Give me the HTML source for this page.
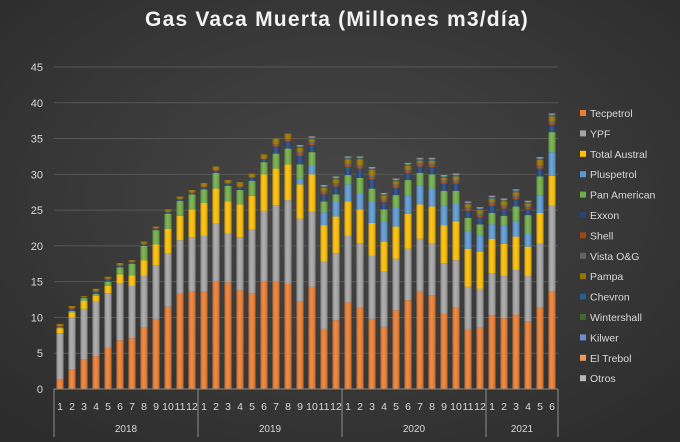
<!DOCTYPE html>
<html><head><meta charset="utf-8">
<style>
html,body{margin:0;padding:0;}
body{width:680px;height:442px;overflow:hidden;background:#3b3b3b;font-family:"Liberation Sans",sans-serif;}
svg{display:block;}
</style></head>
<body>
<svg id="chart" width="680" height="442" viewBox="0 0 680 442" xmlns="http://www.w3.org/2000/svg">
<defs>
<radialGradient id="bg" cx="50%" cy="45%" r="70%">
<stop offset="0" stop-color="#474747"/><stop offset="1" stop-color="#2c2c2c"/>
</radialGradient>
<linearGradient id="shine" x1="0" x2="1" y1="0" y2="0">
<stop offset="0" stop-color="#000" stop-opacity="0.12"/>
<stop offset="0.45" stop-color="#fff" stop-opacity="0.12"/>
<stop offset="1" stop-color="#000" stop-opacity="0.15"/>
</linearGradient>
</defs>
<rect x="0" y="0" width="680" height="442" fill="url(#bg)"/>
<text x="337" y="26" text-anchor="middle" fill="#f2f2f2" font-size="21" font-weight="bold" letter-spacing="1.2">Gas Vaca Muerta (Millones m3/día)</text>
<g id="grid"></g><g id="bars"></g><g id="axis"></g><g id="legend"></g>
</svg>
<script>
const series = ["Tecpetrol","YPF","Total Austral","Pluspetrol","Pan American","Exxon","Shell","Vista O&G","Pampa","Chevron","Wintershall","Kilwer","El Trebol","Otros"];
const colors = ["#ED7D31","#A5A5A5","#FFC000","#5B9BD5","#70AD47","#264478","#9E480E","#636363","#997300","#255E91","#43682B","#698ED0","#F1975A","#B7B7B7"];
const years = ["2018","2019","2020","2021"];
const monthsPerYear = [12,12,12,6];
const yTicks = [0,5,10,15,20,25,30,35,40,45];
const tecpetrol = [1.3,2.7,4.1,4.6,5.8,6.8,7.1,8.6,9.8,11.5,13.3,13.7,13.6,15.1,14.9,13.8,13.4,15.1,15.1,14.7,12.3,14.3,8.4,9.6,12.1,11.4,9.8,8.7,11,12.4,13.7,13.1,10.5,11.4,8.4,8.6,10.3,9.9,10.4,9.4,11.4,13.7];
const ypf = [6.5,7.3,7.1,7.6,7.6,8.0,7.3,7.2,7.5,7.5,7.5,7.5,7.8,8.0,6.8,7.4,8.9,9.8,10.6,11.7,11.5,10.5,9.4,9.4,9.3,9.0,8.8,7.7,7.2,7.2,7.3,7.2,7.1,6.6,5.9,5.4,5.9,5.9,6.3,6.4,8.9,11.9];
const totalAustral = [0.7,0.7,1.1,0.8,1.0,1.2,1.5,2.2,2.9,3.4,3.4,3.9,4.6,4.9,4.5,4.6,4.7,5.1,5.1,5.0,4.8,5.2,5.1,5.1,4.8,4.7,4.6,4.2,4.5,4.9,4.8,5.2,5.3,5.4,5.3,5.2,4.8,4.5,4.6,4.1,4.3,4.2];
const pluspetrol = [0,0,0,0,0,0,0,0,0,0,0,0,0,0,0,0,0,0,0,0,0.8,1.3,1.8,2.1,2.4,2.3,3.0,2.8,2.6,2.6,2.6,2.5,2.8,2.6,2.5,2.2,2.0,2.5,2.2,1.9,2.4,3.3];
const panAmerican = [0.1,0.2,0.4,0.3,0.6,1.0,1.6,2.0,2.0,2.1,2.1,2.1,1.9,2.2,2.2,2.0,2.1,1.7,2.1,2.2,2.0,1.8,1.5,1.0,1.3,2.1,1.8,1.7,1.8,2.1,1.8,2.0,2.0,1.7,1.8,1.6,1.6,1.4,2.0,2.5,2.7,2.8];
const exxon = [0.1,0.3,0.1,0.3,0.3,0.2,0.2,0.2,0.2,0.2,0.2,0.2,0.3,0.3,0.3,0.4,0.4,0.4,1.0,1.0,1.2,1.0,1.0,1.1,1.1,1.3,1.3,1.0,1.0,1.0,0.9,1.0,1.0,1.0,1.0,1.0,1.0,1.0,1.0,0.8,1.1,1.0];
const shell = [0.1,0.1,0.1,0.1,0.1,0.1,0.1,0.1,0.1,0.1,0.1,0.1,0.1,0.1,0.1,0.1,0.1,0.1,0.3,0.3,0.3,0.3,0.3,0.3,0.3,0.3,0.3,0.3,0.3,0.3,0.3,0.3,0.3,0.3,0.3,0.3,0.3,0.3,0.3,0.3,0.3,0.3];
const vista = [0,0,0,0,0,0,0,0,0,0,0,0,0,0,0,0,0,0,0,0,0.2,0.2,0.2,0.2,0.2,0.2,0.2,0.2,0.2,0.2,0.2,0.2,0.2,0.2,0.2,0.2,0.2,0.2,0.2,0.2,0.2,0.2];
const pampa = [0.3,0.3,0.1,0.3,0.3,0.3,0.2,0.3,0.2,0.3,0.3,0.3,0.5,0.5,0.4,0.6,0.5,0.6,0.8,0.8,0.6,0.3,0.4,0.5,0.6,0.8,0.8,0.4,0.4,0.5,0.3,0.4,0.3,0.5,0.4,0.5,0.5,0.5,0.5,0.3,0.7,0.7];
const chevron = [0,0,0,0,0,0,0,0,0,0,0,0,0,0,0,0,0,0,0,0,0.1,0.1,0.1,0.1,0.1,0.1,0.1,0.1,0.1,0.1,0.1,0.1,0.1,0.1,0.1,0.1,0.1,0.1,0.1,0.1,0.1,0.1];
const wintershall = [0,0,0,0,0,0,0,0,0,0,0,0,0,0,0,0,0,0,0,0,0.1,0.1,0.1,0.1,0.1,0.1,0.1,0.1,0.1,0.1,0.1,0.1,0.1,0.1,0.1,0.1,0.1,0.1,0.1,0.1,0.1,0.1];
const kilwer = [0,0,0,0,0,0,0,0,0,0,0,0,0,0,0,0,0,0,0,0,0.1,0.1,0.1,0.1,0.1,0.1,0.1,0.1,0.1,0.1,0.1,0.1,0.1,0.1,0.1,0.1,0.1,0.1,0.1,0.1,0.1,0.1];
const elTrebol = [0,0,0,0,0,0,0,0,0,0,0,0,0,0,0,0,0,0,0,0,0.05,0.05,0.05,0.05,0.05,0.05,0.05,0.05,0.05,0.05,0.05,0.05,0.05,0.05,0.05,0.05,0.05,0.05,0.05,0.05,0.05,0.05];
const otros = [0,0,0,0,0,0,0,0,0,0,0,0,0,0,0,0,0,0,0,0,0.05,0.05,0.05,0.05,0.05,0.05,0.05,0.05,0.05,0.05,0.05,0.05,0.05,0.05,0.05,0.05,0.05,0.05,0.05,0.05,0.05,0.05];

const allSeries = [tecpetrol,ypf,totalAustral,pluspetrol,panAmerican,exxon,shell,vista,pampa,chevron,wintershall,kilwer,elTrebol,otros];
const NS="http://www.w3.org/2000/svg";
const X0=54, STEP=12, BW=7, Y0=389, YTOP=67, YMAX=45;
const yScale = v => Y0 - v*(Y0-YTOP)/YMAX;
const xScale = i => X0 + STEP*i + STEP/2;
function mk(tag, attrs, parent){const e=document.createElementNS(NS,tag);for(const k in attrs)e.setAttribute(k,attrs[k]);parent.appendChild(e);return e;}
const grid=document.getElementById('grid'), bars=document.getElementById('bars'), axis=document.getElementById('axis'), legend=document.getElementById('legend');

yTicks.forEach(t=>{
  const y=yScale(t);
  if(t>0){const l=mk('line',{x1:X0,x2:558,y1:y,y2:y,stroke:'#575757','stroke-width':1},grid);
  
  }
  const tx=mk('text',{x:43,y:y+4,'text-anchor':'end',fill:'#d9d9d9','font-size':11},axis);
  tx.textContent=t;
  
  
});

const n=tecpetrol.length;
for(let i=0;i<n;i++){
  let cum=0;
  const g=mk('g',{},bars);
  
  
  allSeries.forEach((s,k)=>{
    const v=s[i]; if(!v) return;
    const yt=yScale(cum+v), yb=yScale(cum);
    const r=mk('rect',{x:xScale(i)-BW/2,y:yt,width:BW,height:Math.max(0,yb-yt),fill:colors[k]},g);
    
    
    cum+=v;
  });
  const top=yScale(cum);
  const sh=mk('rect',{x:xScale(i)-BW/2,y:top,width:BW,height:Y0-top,fill:'url(#shine)'},g);
  
  
}

const ax=mk('line',{x1:X0,x2:558,y1:Y0,y2:Y0,stroke:'#8c8c8c','stroke-width':1},axis);


let idx=0;
years.forEach((yr,yi)=>{
  const start=idx;
  const xs=X0+STEP*start;
  const b=mk('line',{x1:xs,x2:xs,y1:Y0,y2:437,stroke:'#8c8c8c','stroke-width':1},axis);
  
  
  for(let m=1;m<=monthsPerYear[yi];m++){
    const t=mk('text',{x:xScale(idx),y:410,'text-anchor':'middle',fill:'#d9d9d9','font-size':10.5},axis);
    t.textContent=m;
    
    
    idx++;
  }
  const xm=(xs+X0+STEP*idx)/2;
  const yt=mk('text',{x:xm,y:432,'text-anchor':'middle',fill:'#d9d9d9','font-size':10},axis);
  yt.textContent=yr;
  
  
});
const endL=mk('line',{x1:X0+STEP*idx,x2:X0+STEP*idx,y1:Y0,y2:437,stroke:'#8c8c8c','stroke-width':1},axis);



series.forEach((s,k)=>{
  const y=114+k*20.4;
  const g=mk('g',{},legend);
  
  
  mk('rect',{x:580,y:y-4,width:6,height:6,fill:colors[k]},g);
  const t=mk('text',{x:590,y:y+3,fill:'#d9d9d9','font-size':10.5},g);
  t.textContent=s;
});
</script>
</body></html>
